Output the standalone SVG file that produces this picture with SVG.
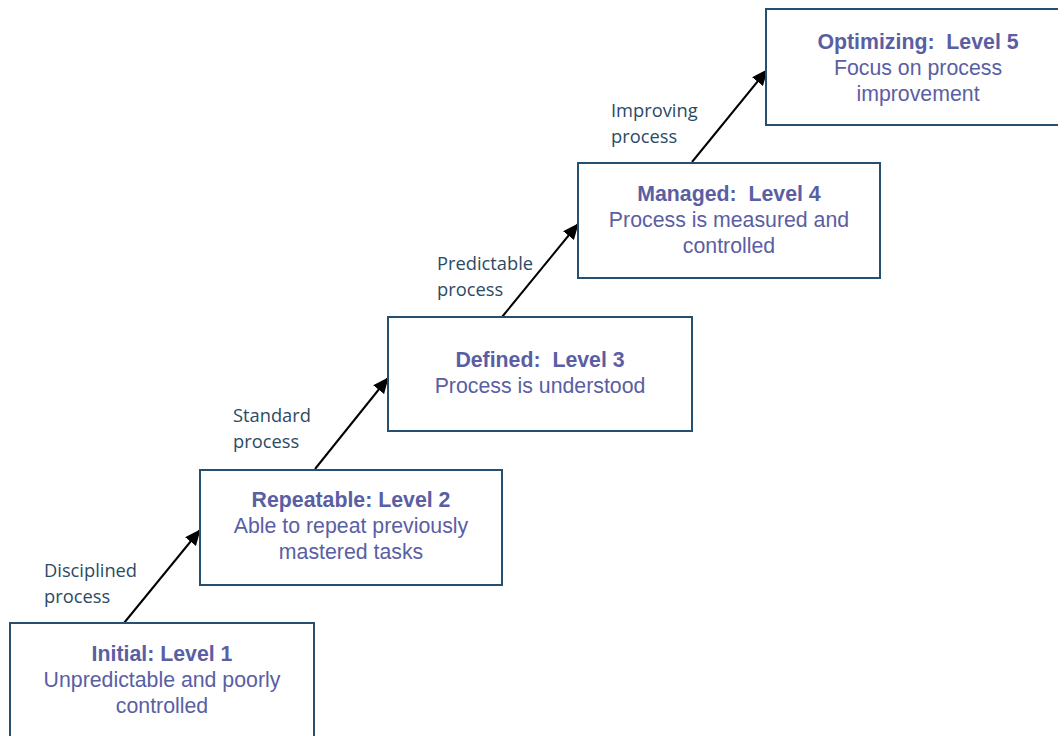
<svg xmlns="http://www.w3.org/2000/svg" width="1058" height="736" viewBox="0 0 1058 736">
  <defs>
    <marker id="arrowhead" viewBox="0 0 16 14" refX="15" refY="7" markerWidth="16" markerHeight="14" markerUnits="userSpaceOnUse" orient="auto">
      <path d="M0,0 L16,7 L0,14 z" fill="#000"/>
    </marker>
    <style>
      .box { fill: #fff; stroke: #25506f; stroke-width: 2; }
      .title { font-family: "Liberation Sans", Arial, sans-serif; font-size: 21.3px; font-weight: bold; fill: #5a5ea3; text-anchor: middle; }
      .desc { font-family: "Liberation Sans", Arial, sans-serif; font-size: 21.3px; fill: #5a5ea3; text-anchor: middle; }
      .label { font-family: "Open Sans", "Liberation Sans", sans-serif; font-size: 18.3px; fill: #2a4a66; }
      .conn { stroke: #000; stroke-width: 2; fill: none; marker-end: url(#arrowhead); }
    </style>
  </defs>
  <rect width="1058" height="736" fill="#fff"/>

  <g id="connectors">
    <line class="conn" x1="124" y1="623" x2="200" y2="530"/>
    <line class="conn" x1="315" y1="469" x2="388" y2="378"/>
    <line class="conn" x1="502" y1="317" x2="578" y2="224"/>
    <line class="conn" x1="692" y1="162" x2="767" y2="70"/>
    <text class="label" x="44" y="577">Disciplined</text>
    <text class="label" x="44" y="603">process</text>
    <text class="label" x="233" y="422">Standard</text>
    <text class="label" x="233" y="448">process</text>
    <text class="label" x="437" y="270">Predictable</text>
    <text class="label" x="437" y="296">process</text>
    <text class="label" x="611" y="117">Improving</text>
    <text class="label" x="611" y="143">process</text>
  </g>

  <g id="level1">
    <rect class="box" x="10" y="623" width="304" height="125"/>
    <text class="title" x="162" y="661">Initial: Level 1</text>
    <text class="desc" x="162" y="687">Unpredictable and poorly</text>
    <text class="desc" x="162" y="713">controlled</text>
  </g>

  <g id="level2">
    <rect class="box" x="200" y="470" width="302" height="115"/>
    <text class="title" x="351" y="507">Repeatable: Level 2</text>
    <text class="desc" x="351" y="533">Able to repeat previously</text>
    <text class="desc" x="351" y="559">mastered tasks</text>
  </g>

  <g id="level3">
    <rect class="box" x="388" y="317" width="304" height="114"/>
    <text class="title" x="540" y="367" xml:space="preserve">Defined:  Level 3</text>
    <text class="desc" x="540" y="393">Process is understood</text>
  </g>

  <g id="level4">
    <rect class="box" x="578" y="163" width="302" height="115"/>
    <text class="title" x="729" y="201" xml:space="preserve">Managed:  Level 4</text>
    <text class="desc" x="729" y="227">Process is measured and</text>
    <text class="desc" x="729" y="253">controlled</text>
  </g>

  <g id="level5">
    <rect class="box" x="766" y="9" width="302" height="116"/>
    <text class="title" x="918" y="49" xml:space="preserve">Optimizing:  Level 5</text>
    <text class="desc" x="918" y="75">Focus on process</text>
    <text class="desc" x="918" y="101">improvement</text>
  </g>
</svg>
